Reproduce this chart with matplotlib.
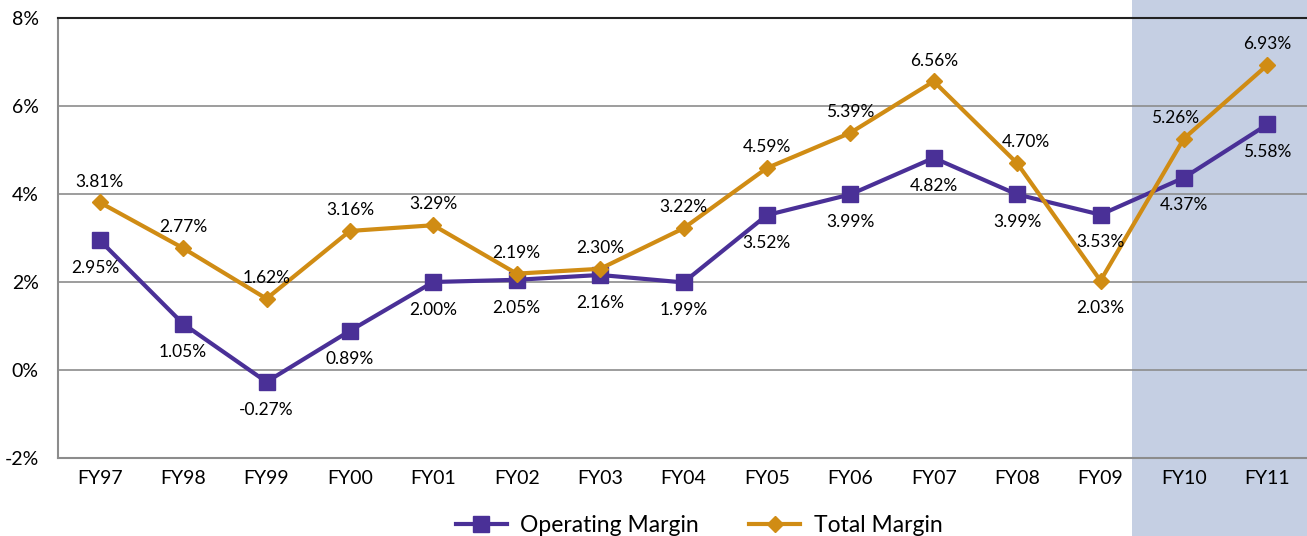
import numpy as np
import matplotlib
matplotlib.use('Agg')
import matplotlib.pyplot as plt
from matplotlib.patches import Rectangle

years = ['FY97', 'FY98', 'FY99', 'FY00', 'FY01', 'FY02', 'FY03', 'FY04',
         'FY05', 'FY06', 'FY07', 'FY08', 'FY09', 'FY10', 'FY11']
operating_margin = [2.95, 1.05, -0.27, 0.89, 2.00, 2.05, 2.16, 1.99,
                    3.52, 3.99, 4.82, 3.99, 3.53, 4.37, 5.58]
total_margin = [3.81, 2.77, 1.62, 3.16, 3.29, 2.19, 2.30, 3.22,
                4.59, 5.39, 6.56, 4.70, 2.03, 5.26, 6.93]

# label offsets in points (dx, dy)
op_offsets = [(-3, -20)] + [(0, -20)] * 14
tot_offsets = [(0, 15)] * 15
tot_offsets[11] = (6, 15)
tot_offsets[12] = (0, -20)
tot_offsets[13] = (-6, 15)

purple = '#4a3097'
gold = '#d08c14'

plt.rcParams['font.family'] = ['Lato', 'DejaVu Sans']

fig = plt.figure(figsize=(13.07, 5.36), dpi=100)
ax = fig.add_axes([58 / 1307, 1 - 458 / 536, 1251 / 1307, 440 / 536])

# projected years band, runs the full height of the figure
band = Rectangle((1132 / 1307, 0), 1 - 1132 / 1307, 1, transform=fig.transFigure,
                 facecolor='#c5cfe3', edgecolor='none', zorder=0, clip_on=False)
ax.add_patch(band)

x = np.arange(len(years))
ax.set_xlim(-0.5, len(years) - 0.5)
ax.set_ylim(-2, 8)
ax.set_yticks(np.arange(-2, 9, 2))
ax.set_yticklabels(['{}%'.format(v) for v in range(-2, 9, 2)], fontsize=14)
ax.set_xticks(x)
ax.set_xticklabels(years, fontsize=14)
ax.tick_params(length=0, pad=9)
ax.tick_params(axis='y', pad=14)
ax.grid(True, axis='y', color='#8c8c8c', linewidth=1.2)
for s in ['left', 'bottom']:
    ax.spines[s].set_color('#8c8c8c')
    ax.spines[s].set_linewidth(1.5)
ax.spines['top'].set_color('#222222')
ax.spines['top'].set_linewidth(1.5)
ax.spines['right'].set_visible(False)

l1 = ax.plot(x, operating_margin, color=purple, lw=3, marker='s', ms=11,
             label='Operating Margin', zorder=3)
l2 = ax.plot(x, total_margin, color=gold, lw=3, marker='D', ms=8.5,
             label='Total Margin', zorder=3)

for i, v in enumerate(operating_margin):
    ax.annotate('{:.2f}%'.format(v), (i, v), xytext=op_offsets[i],
                textcoords='offset points', ha='center', va='center', fontsize=12.5)
for i, v in enumerate(total_margin):
    ax.annotate('{:.2f}%'.format(v), (i, v), xytext=tot_offsets[i],
                textcoords='offset points', ha='center', va='center', fontsize=12.5)

lgd = fig.legend(handles=l1 + l2, loc='center', bbox_to_anchor=(0.535, 0.02),
                 ncol=2, frameon=False, fontsize=16.5, columnspacing=2.2,
                 handlelength=2.2, handletextpad=0.6)

plt.savefig('out.png', dpi=100)
